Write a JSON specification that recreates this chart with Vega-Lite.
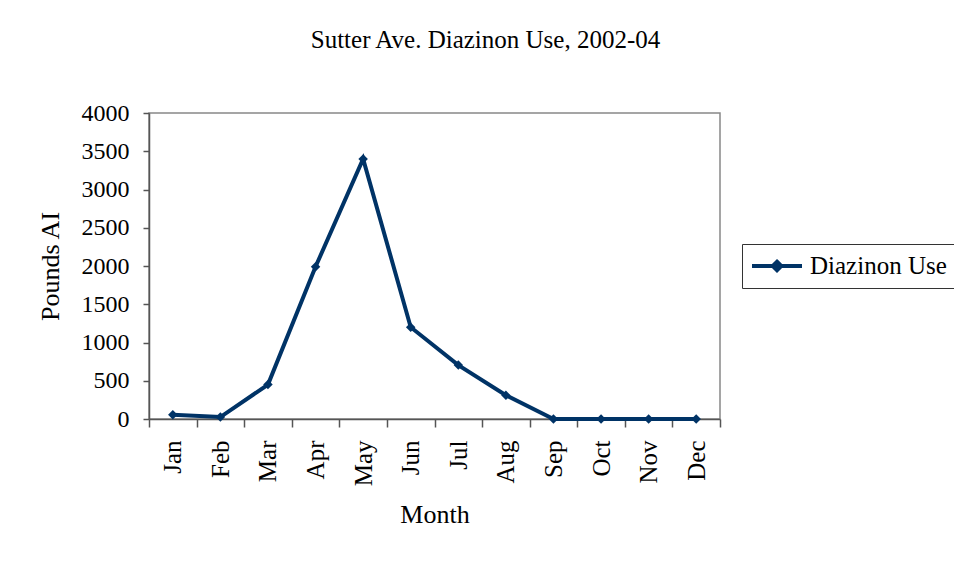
{
  "$schema": "https://vega.github.io/schema/vega-lite/v6.json",
  "width": 571,
  "height": 306,
  "autosize": {"type": "none"},
  "padding": {"left": 149, "top": 113, "right": 234, "bottom": 144},
  "background": "white",
  "title": {
    "text": "Sutter Ave. Diazinon Use, 2002-04",
    "font": "Liberation Serif",
    "fontSize": 25,
    "fontWeight": "normal",
    "color": "black",
    "anchor": "middle",
    "dx": 51,
    "offset": 48
  },
  "data": {
    "values": [
      {"month": "Jan", "pounds": 55, "series": "Diazinon Use"},
      {"month": "Feb", "pounds": 25, "series": "Diazinon Use"},
      {"month": "Mar", "pounds": 450, "series": "Diazinon Use"},
      {"month": "Apr", "pounds": 1990, "series": "Diazinon Use"},
      {"month": "May", "pounds": 3400, "series": "Diazinon Use"},
      {"month": "Jun", "pounds": 1200, "series": "Diazinon Use"},
      {"month": "Jul", "pounds": 705, "series": "Diazinon Use"},
      {"month": "Aug", "pounds": 310, "series": "Diazinon Use"},
      {"month": "Sep", "pounds": 0, "series": "Diazinon Use"},
      {"month": "Oct", "pounds": 0, "series": "Diazinon Use"},
      {"month": "Nov", "pounds": 0, "series": "Diazinon Use"},
      {"month": "Dec", "pounds": 0, "series": "Diazinon Use"}
    ]
  },
  "mark": {
    "type": "line",
    "strokeWidth": 4,
    "point": {"filled": true, "shape": "diamond", "size": 90}
  },
  "encoding": {
    "x": {
      "field": "month",
      "type": "ordinal",
      "sort": null,
      "bandPosition": 0.5,
      "scale": {"type": "band", "paddingInner": 0, "paddingOuter": 0},
      "axis": {
        "title": "Month",
        "tickBand": "extent",
        "labelAngle": 270,
        "labelAlign": "right",
        "labelBaseline": "middle",
        "labelPadding": 13,
        "labelFontSize": 25,
        "tickSize": 8,
        "titlePadding": 16
      }
    },
    "y": {
      "field": "pounds",
      "type": "quantitative",
      "scale": {"domain": [0, 4000], "nice": false},
      "axis": {
        "title": "Pounds AI",
        "format": "d",
        "values": [0, 500, 1000, 1500, 2000, 2500, 3000, 3500, 4000],
        "grid": false,
        "tickSize": 6,
        "labelPadding": 14,
        "labelFontSize": 24,
        "titlePadding": 18
      }
    },
    "color": {
      "field": "series",
      "type": "nominal",
      "scale": {"range": ["#003366"]},
      "legend": {
        "title": null,
        "orient": "none",
        "legendX": 593,
        "legendY": 131,
        "strokeColor": "#333333",
        "padding": 8,
        "clipHeight": 28,
        "symbolType": "M -1 0 L 1 0 M 0 -0.17 L 0.17 0 L 0 0.17 L -0.17 0 Z",
        "symbolSize": 2500,
        "symbolStrokeWidth": 4,
        "labelFont": "Liberation Serif",
        "labelFontSize": 25,
        "labelColor": "black",
        "labelOffset": 6
      }
    }
  },
  "config": {
    "view": {"stroke": "#888888", "strokeWidth": 1.5},
    "axis": {
      "labelFont": "Liberation Serif",
      "titleFont": "Liberation Serif",
      "titleFontSize": 26,
      "titleFontWeight": "normal",
      "labelColor": "black",
      "titleColor": "black",
      "domainColor": "#555555",
      "tickColor": "#555555",
      "domainWidth": 1.5,
      "tickWidth": 1.5
    }
  }
}
